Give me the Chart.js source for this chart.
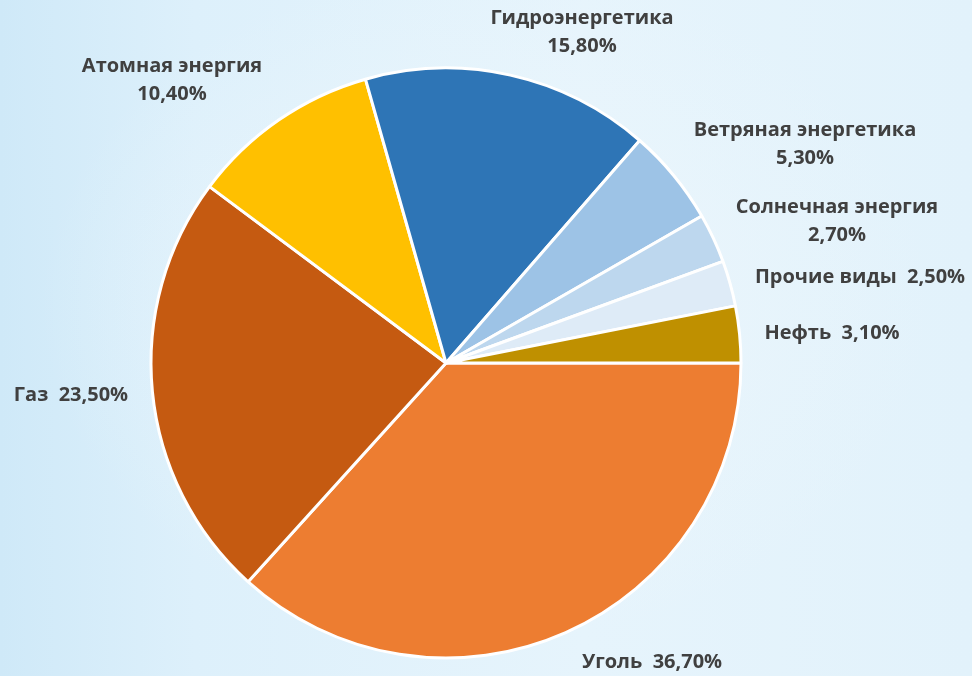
<!DOCTYPE html>
<html>
<head>
<meta charset="utf-8">
<script src="https://cdn.jsdelivr.net/npm/chart.js@4/dist/chart.umd.min.js"></script>
<style>
  html, body { margin: 0; padding: 0; }
  body {
    width: 972px; height: 676px; overflow: hidden;
    background:
      radial-gradient(ellipse at 50% 45%, rgba(236,246,252,0.9) 0%, rgba(236,246,252,0) 65%),
      linear-gradient(90deg, #cfe9f8 0%, #ddf0fb 20%, #e6f4fc 60%, #e2f2fb 100%);
  }
  #wrap { position: relative; width: 972px; height: 676px; }
</style>
</head>
<body>
<div id="wrap"><canvas id="pie" width="972" height="676"></canvas></div>
<script>
  // Energy mix data
  const categories = ['Уголь', 'Газ', 'Атомная энергия', 'Гидроэнергетика',
    'Ветряная энергетика', 'Солнечная энергия', 'Прочие виды', 'Нефть'];
  const shares = [36.7, 23.5, 10.4, 15.8, 5.3, 2.7, 2.5, 3.1];
  const sliceColors = ['#ED7D31', '#C55A11', '#FFC000', '#2E75B6',
    '#9DC3E6', '#BDD7EE', '#DEEBF7', '#BF9000'];

  // label placement: [x, y, twoLines]
  const labelLayout = [
    [652, 662, false],
    [71, 395, false],
    [172, 66, true],
    [582, 18, true],
    [805, 130, true],
    [837, 207, true],
    [860, 277, false],
    [832, 333, false],
  ];

  function fmt(v) {
    return v.toFixed(2).replace('.', ',') + '%';
  }

  const labelPlugin = {
    id: 'sliceLabels',
    afterDraw(chart) {
      const ctx = chart.ctx;
      ctx.save();
      ctx.fillStyle = '#404040';
      ctx.font = 'bold 20px "Open Sans", sans-serif';
      ctx.textAlign = 'center';
      ctx.textBaseline = 'middle';
      categories.forEach((name, i) => {
        const [x, y, twoLines] = labelLayout[i];
        if (twoLines) {
          ctx.fillText(name, x, y);
          ctx.fillText(fmt(shares[i]), x, y + 28);
        } else {
          ctx.fillText(name + '  ' + fmt(shares[i]), x, y);
        }
      });
      ctx.restore();
    }
  };

  new Chart(document.getElementById('pie'), {
    type: 'pie',
    data: {
      labels: categories,
      datasets: [{
        data: shares,
        backgroundColor: sliceColors,
        borderColor: '#ffffff',
        borderWidth: 3,
      }]
    },
    options: {
      responsive: false,
      animation: false,
      rotation: 90,
      radius: 295,
      layout: { padding: { left: 0, right: 80, top: 50, bottom: 0 } },
      plugins: {
        legend: { display: false },
        tooltip: { enabled: false },
      },
    },
    plugins: [labelPlugin],
  });
</script>
</body>
</html>
